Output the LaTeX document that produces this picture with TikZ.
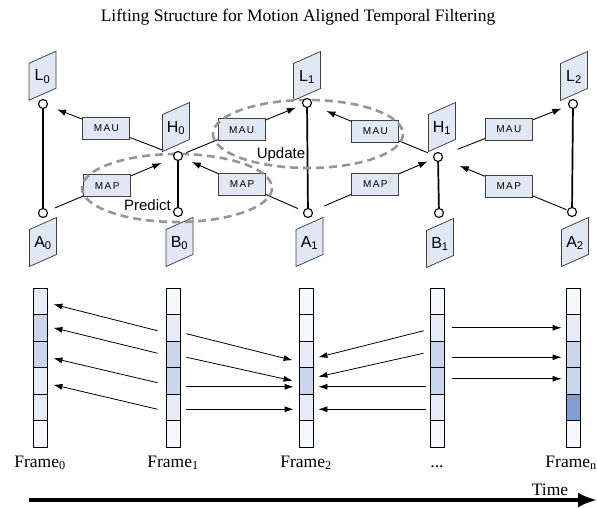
\documentclass[tikz,border=0pt]{standalone}
\usepackage{fontspec}
\setmainfont{Liberation Serif}
\setsansfont{Liberation Sans}
\usetikzlibrary{arrows.meta}

\definecolor{tagfill}{RGB}{225,232,245}
\definecolor{edgegray}{RGB}{64,64,64}
\definecolor{ringgray}{RGB}{150,150,150}
\definecolor{cellA}{RGB}{246,248,253}
\definecolor{cellB}{RGB}{230,237,248}
\definecolor{cellC}{RGB}{201,214,235}
\definecolor{cellD}{RGB}{127,159,210}

\pgfdeclarelayer{top}
\pgfsetlayers{main,top}

% slanted label tag: name, centre x, centre y, text
\newcommand\tagat[4]{%
  \draw[tagshape] (#2-13.5,#3+24.5) -- ++(0,-37) -- ++(27,-12) -- ++(0,37) -- cycle;
  \node[taglabel] (#1) at (#2,#3+1) {#4};
}

\begin{document}
\begin{tikzpicture}[x=1pt,y=-1pt,
  port/.style={circle, draw, fill=white, line width=1.1pt, minimum size=9pt, inner sep=0pt},
  tagshape/.style={fill=tagfill, draw=edgegray, line width=0.8pt},
  taglabel/.style={font=\sffamily\fontsize{16}{17}\selectfont, inner sep=0pt},
  opbox/.style={draw=edgegray, fill=tagfill, line width=0.8pt, minimum width=47pt,
    minimum height=22pt, inner sep=0pt,
    font=\sffamily\fontsize{10}{11}\selectfont\addfontfeature{LetterSpace=14}},
  link/.style={line width=0.9pt},
  tip/.style={-{Latex[length=9pt,width=6.5pt]}},
  rail/.style={line width=1.7pt},
  ring/.style={draw=ringgray, line width=2.6pt, dash pattern=on 8pt off 5pt},
  cell/.style={draw=black, line width=0.8pt, minimum width=14pt, minimum height=26.5pt, inner sep=0pt},
  flow/.style={line width=0.8pt, -{Latex[length=9pt,width=6pt]}},
  serif/.style={font=\fontsize{17.5}{18}\selectfont, inner sep=0pt},
  callout/.style={font=\sffamily\fontsize{15}{16}\selectfont, inner sep=0pt}
]
\useasboundingbox (0,0) rectangle (597,508);

\node[serif] (title) at (298,17) {Lifting Structure for Motion Aligned Temporal Filtering};

% lifting nodes
\begin{pgfonlayer}{top}
  \node[port] (pL0) at (43,104) {};
  \node[port] (pA0) at (43,213) {};
  \node[port] (pH0) at (178,156) {};
  \node[port] (pB0) at (178,212) {};
  \node[port] (pL1) at (307,103) {};
  \node[port] (pA1) at (308,213) {};
  \node[port] (pH1) at (438,157) {};
  \node[port] (pB1) at (439,213) {};
  \node[port] (pL2) at (573,104) {};
  \node[port] (pA2) at (572,212) {};
\end{pgfonlayer}

% signal tags
\tagat{L0}{42.5}{75.75}{L\textsubscript{0}}
\tagat{H0}{176}{127}{H\textsubscript{0}}
\tagat{L1}{307}{76}{L\textsubscript{1}}
\tagat{H1}{442}{127}{H\textsubscript{1}}
\tagat{L2}{574}{76}{L\textsubscript{2}}
\tagat{A0}{43}{242}{A\textsubscript{0}}
\tagat{B0}{179.5}{242}{B\textsubscript{0}}
\tagat{A1}{309.5}{242}{A\textsubscript{1}}
\tagat{B1}{440}{243}{B\textsubscript{1}}
\tagat{A2}{575}{242}{A\textsubscript{2}}

% vertical rails
\draw[rail] (pL0) -- (pA0);
\draw[rail] (pH0) -- (pB0);
\draw[rail] (pL1) -- (pA1);
\draw[rail] (pH1) -- (pB1);
\draw[rail] (pL2) -- (pA2);

% update steps
\path (pH0) -- (pL0) node[opbox, pos=0.533] (mau1) {MAU};
\draw[link, shorten <=11.5pt] (pH0) -- (mau1);
\draw[link, tip, shorten >=10pt] (mau1) -- (pL0);

\path (pH0) -- (pL1) node[opbox, pos=0.492] (mau2) {MAU};
\draw[link, shorten <=4pt] (pH0) -- (mau2);
\draw[link, tip, shorten >=7pt] (mau2) -- (pL1);

\path (pH1) -- (pL1) node[opbox, pos=0.477] (mau3) {MAU};
\draw[link, shorten <=6pt] (pH1) -- (mau3);
\draw[link, tip, shorten >=16pt] (mau3) -- (pL1);

\path (pH1) -- (pL2) node[opbox, pos=0.526] (mau4) {MAU};
\draw[link, shorten <=16pt] (pH1) -- (mau4);
\draw[link, tip, shorten >=7.5pt] (mau4) -- (pL2);

% predict steps
\path (pA0) -- (pH0) node[opbox, pos=0.474] (map1) {MAP};
\draw[link, shorten <=8pt] (pA0) -- (map1);
\draw[link, tip, shorten >=13pt] (map1) -- (pH0);

\path (pA1) -- (pH0) node[opbox, pos=0.508] (map2) {MAP};
\draw[link, shorten <=6pt] (pA1) -- (map2);
\draw[link, tip, shorten >=10pt] (map2) -- (pH0);

\path (pA1) -- (pH1) node[opbox, pos=0.519] (map3) {MAP};
\draw[link, shorten <=12.7pt] (pA1) -- (map3);
\draw[link, tip, shorten >=6.5pt] (map3) -- (pH1);

\path (pA2) -- (pH1) node[opbox, pos=0.47] (map4) {MAP};
\draw[link, shorten <=1pt] (pA2) -- (map4);
\draw[link, tip, shorten >=18.5pt] (map4) -- (pH1);

% grouping rings
\draw[ring] (177,188) ellipse [x radius=95, y radius=34];
\draw[ring] (308,134) ellipse [x radius=95, y radius=34];
\node[callout, anchor=base] (predict) at (147.5,210) {Predict};
\node[callout, anchor=base] (update) at (281,158) {Update};

% frame columns
\foreach \nm/\x/\cols in {
    f0/40/{cellB,cellC,cellC,cellB,cellB,cellA},
    f1/173/{cellA,cellB,cellC,cellC,cellB,cellA},
    f2/306/{cellA,cellA,cellB,cellC,cellB,cellA},
    d/437/{cellA,cellB,cellC,cellC,cellB,cellA},
    fn/573/{cellA,cellB,cellC,cellC,cellD,cellA}} {
  \foreach \c [count=\k] in \cols {
    \node[cell, fill=\c] (\nm-\k) at (\x,288+26.5*\k-13.25) {};
  }
}

% motion links, frame 1 to frame 0
\draw[flow] ([shift={(-8,3)}]f1-2.west) -- ([shift={(6,3)}]f0-1.east);
\draw[flow] ([shift={(-8,-1)}]f1-3.west) -- ([shift={(6,0)}]f0-2.east);
\draw[flow] ([shift={(-8,2)}]f1-4.west) -- ([shift={(6,4)}]f0-3.east);
\draw[flow] ([shift={(-8,2)}]f1-5.west) -- ([shift={(6,4)}]f0-4.east);
% frame 1 to frame 2
\draw[flow] ([shift={(6,6)}]f1-2.east) -- ([shift={(-6,6)}]f2-3.west);
\draw[flow] ([shift={(6,3)}]f1-3.east) -- ([shift={(-6,0)}]f2-4.west);
\draw[flow] ([shift={(6,6)}]f1-4.east) -- ([shift={(-5,6)}]f2-4.west);
\draw[flow] ([shift={(6,2)}]f1-5.east) -- ([shift={(-5,2)}]f2-5.west);
% later frame to frame 2
\draw[flow] ([shift={(-6,3)}]d-2.west) -- ([shift={(5,3)}]f2-3.east);
\draw[flow] ([shift={(-6,-1)}]d-3.west) -- ([shift={(5,-4)}]f2-4.east);
\draw[flow] ([shift={(-4,6)}]d-4.west) -- ([shift={(5,6)}]f2-4.east);
\draw[flow] ([shift={(-4,2)}]d-5.west) -- ([shift={(5,2)}]f2-5.east);
% later frame to frame n
\draw[flow] ([shift={(8,0)}]d-2.east) -- ([shift={(-4,0)}]fn-2.west);
\draw[flow] ([shift={(8,3)}]d-3.east) -- ([shift={(-4,3)}]fn-3.west);
\draw[flow] ([shift={(8,-2)}]d-4.east) -- ([shift={(-4,-2)}]fn-4.west);

% frame captions
\node[serif, anchor=base] (cap0) at (40,467) {Frame\textsubscript{0}};
\node[serif, anchor=base] (cap1) at (173,467) {Frame\textsubscript{1}};
\node[serif, anchor=base] (cap2) at (306,467) {Frame\textsubscript{2}};
\node[serif, anchor=base] (capd) at (437,467) {...};
\node[serif, anchor=base east] (capn) at (597,467) {Frame\textsubscript{n}};

% time axis
\coordinate (t0) at (29,500);
\coordinate (t1) at (597,500);
\draw[line width=3.2pt, -{Latex[length=19pt,width=15pt]}] (t0) -- (t1);
\node[serif, anchor=base] (timelab) at (550,495) {Time};
\end{tikzpicture}
\end{document}
